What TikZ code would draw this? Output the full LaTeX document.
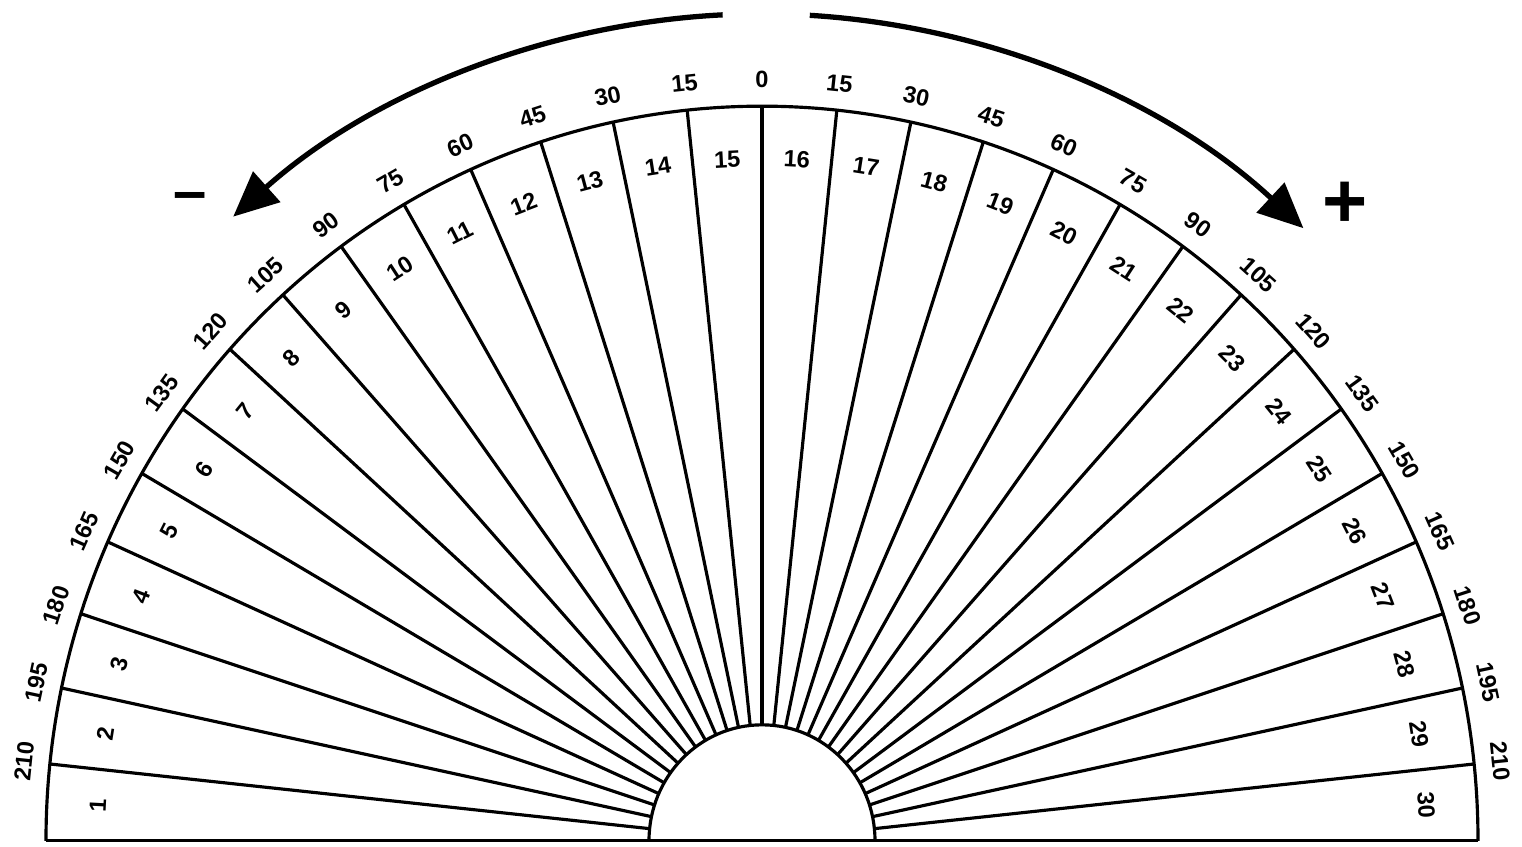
\documentclass[tikz,border=0pt]{standalone}
\usepackage{fontspec}
\setmainfont{Liberation Sans}
\usepackage{tikz}
\usetikzlibrary{arrows.meta}

\begin{document}
\begin{tikzpicture}[x=0.01cm,y=0.01025cm,
  every node/.style={font=\fontsize{6.7}{8}\selectfont\bfseries,inner sep=0.5pt},
  ray/.style={line width=0.9pt},
  turn/.style={line width=1.5pt,-{Triangle[length=0.45cm,width=0.4cm]}}]
  \useasboundingbox (-762,-5.85) rectangle (760,819.5);
  % rim, hub and base
  \draw[ray] (-716,0) arc[start angle=180,end angle=0,radius=716];
  \draw[ray] (-113,0) arc[start angle=180,end angle=0,radius=113];
  \draw[ray] (-716,0) -- (716,0);
  % spokes and scale
  \foreach \j in {1,...,29}{
    \pgfmathtruncatemacro\degval{abs(15-\j)*15}
    \draw[ray] ({6*\j}:113) -- ({6*\j}:716);
    \node[rotate=6*\j-90] (deg\j) at ({6*\j}:742) {\degval};
  }
  % sector numbers
  \foreach \k in {1,...,30}
    \node[rotate=93-6*\k] (sec\k) at ({183-6*\k}:665) {\k};
  % direction arrows
  \draw[turn] (92.8:806) arc[start angle=92.8,end angle=131,radius=806];
  \draw[turn] (86.6:806) arc[start angle=86.6,end angle=47.8,radius=806];
  \node[font=\fontsize{17}{20}\selectfont\bfseries] (minus) at (-572,623) {--};
  \node[font=\fontsize{22}{24}\selectfont\bfseries] (plus) at (583,620) {+};
\end{tikzpicture}
\end{document}
